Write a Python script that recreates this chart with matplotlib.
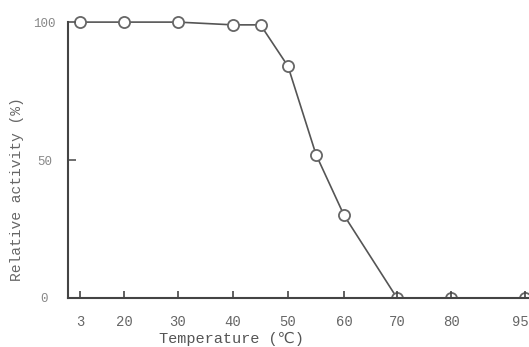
import numpy as np
import matplotlib
matplotlib.use("Agg")
import matplotlib.pyplot as plt
import matplotlib.transforms as mtransforms

# Data
temperature = [3, 20, 30, 40, 45, 50, 55, 60, 70, 80, 95]
relative_activity = [100, 100, 100, 99, 99, 84, 52, 30, 0, 0, 0]
xtick_values = [3, 20, 30, 40, 50, 60, 70, 80, 95]
xtick_labels = ["3", "20", "30", "40", "50", "60", "70", "80", "95"]
ytick_values = [0, 50, 100]
ytick_labels = ["0", "50", "100"]

# non-uniform (broken) temperature axis, as in the original
anchor_t = [-20, 3, 20, 30, 40, 50, 60, 70, 80, 95, 120]
anchor_p = [20.5, 80, 124, 178, 233, 288, 344, 397, 451, 525, 648]

def fwd(x):
    return np.interp(x, anchor_t, anchor_p)

def inv(p):
    return np.interp(p, anchor_p, anchor_t)

W, H = 529, 347
fig = plt.figure(figsize=(W / 100, H / 100), dpi=100)
ax = fig.add_axes([68 / W, (H - 298) / H, (W - 68) / W, (298 - 5) / H])
ax.set_xscale("function", functions=(fwd, inv))

ax.plot(temperature, relative_activity, color="#555555", lw=1.2,
        marker="o", ms=8, mfc="white", mec="#666666", mew=1.3, zorder=1,
        clip_on=True)

ax.set_xlim(inv(68), inv(529))
ax.set_ylim(0, 106.2)

for s in ["top", "right"]:
    ax.spines[s].set_visible(False)
ax.spines["left"].set_bounds(0, 100)
for s in ["left", "bottom"]:
    ax.spines[s].set_color("#444444")
    ax.spines[s].set_linewidth(1.5)
    ax.spines[s].set_zorder(3)

mono = ["Liberation Mono", "DejaVu Sans", "Noto Sans CJK SC"]

ax.set_xticks(xtick_values)
ax.set_xticklabels(xtick_labels, family=mono, fontsize=10, color="#666666")
ax.xaxis.set_minor_locator(matplotlib.ticker.NullLocator())
ax.tick_params(axis="x", direction="in", length=5, width=1.2, color="#444444", pad=12)
# last label sits at the right edge of the figure; nudge it inside
last = ax.get_xticklabels()[-1]
last.set_transform(last.get_transform() +
                   mtransforms.ScaledTranslation(-5 / 100, 0, fig.dpi_scale_trans))

ax.set_yticks(ytick_values)
ax.set_yticklabels(ytick_labels, family=mono, fontsize=9, color="#888888", ha="center")
ax.tick_params(axis="y", direction="in", length=6, width=1.2, color="#555555", pad=17)

fig.text(17 / W, 1 - 189 / H, "Relative activity (%)", rotation=90,
         ha="center", va="center", family=mono, fontsize=10.5, color="#666666")
fig.text(231 / W, 1 - 339 / H, "Temperature (\u2103)", ha="center", va="center",
         family=mono, fontsize=11, color="#555555")

fig.savefig("out.png", dpi=100)
